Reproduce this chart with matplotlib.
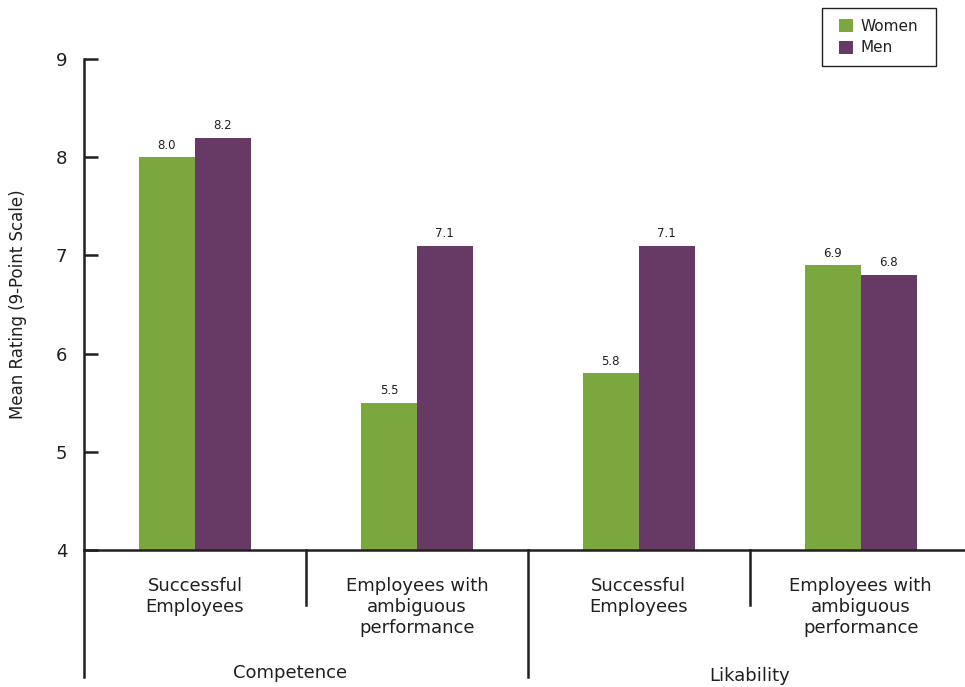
import matplotlib
matplotlib.use("Agg")
import matplotlib.pyplot as plt
import matplotlib.transforms as mtransforms
from matplotlib.patches import Rectangle
import numpy as np

# data
categories = ["Successful\nEmployees", "Employees with\nambiguous\nperformance",
              "Successful\nEmployees", "Employees with\nambiguous\nperformance"]
groups = ["Competence", "Likability"]
women = [8.0, 5.5, 5.8, 6.9]
men = [8.2, 7.1, 7.1, 6.8]

green = "#7aa83f"
purple = "#673a66"
dark = "#231f20"

fig = plt.figure(figsize=(9.65, 6.87), dpi=100)
ax = fig.add_axes([84 / 965, 137 / 687, 881 / 965, 491 / 687])

x = np.arange(len(categories))
w = 0.252
bw = ax.bar(x - w / 2, np.array(women) - 4, w, bottom=4, color=green, label="Women")
bm = ax.bar(x + w / 2, np.array(men) - 4, w, bottom=4, color=purple, label="Men")

for rects, vals in [(bw, women), (bm, men)]:
    for r, v in zip(rects, vals):
        ax.annotate(f"{v:.1f}", (r.get_x() + r.get_width() / 2, v),
                    xytext=(0, 4), textcoords="offset points",
                    ha="center", va="bottom", fontsize=8.5, color=dark)

ax.set_xlim(-0.5, 3.47)
ax.set_ylim(4, 9)
ax.set_yticks([4, 5, 6, 7, 8, 9])
ax.set_xticks([])
for s in ["top", "right"]:
    ax.spines[s].set_visible(False)
for s in ["left", "bottom"]:
    ax.spines[s].set_linewidth(1.8)
    ax.spines[s].set_color(dark)
ax.tick_params(axis="y", direction="in", length=10, width=1.8, color=dark,
               labelsize=13, labelcolor=dark, pad=12)
fig.text(18 / 965, 1 - 304 / 687, "Mean Rating (9-Point Scale)", rotation=90,
         ha="center", va="center", fontsize=12, color=dark)

# separators under the axis
trans = mtransforms.blended_transform_factory(ax.transData, ax.transAxes)
ax.plot([-0.5, -0.5], [0, -0.259], transform=trans, color=dark, lw=1.8, clip_on=False)
ax.plot([1.5, 1.5], [0, -0.259], transform=trans, color=dark, lw=1.8, clip_on=False)
ax.plot([0.5, 0.5], [0, -0.112], transform=trans, color=dark, lw=1.8, clip_on=False)
ax.plot([2.5, 2.5], [0, -0.112], transform=trans, color=dark, lw=1.8, clip_on=False)

for xi, lab in zip(x, categories):
    ax.text(xi, -0.055, lab, transform=trans, ha="center", va="top",
            fontsize=13, color=dark, linespacing=1.2)
ax.text(0.43, -0.25, groups[0], transform=trans, ha="center", va="center",
        fontsize=13, color=dark)
ax.text(2.5, -0.256, groups[1], transform=trans, ha="center", va="center",
        fontsize=13, color=dark)

# legend box
fig.patches.append(Rectangle((822 / 965, 1 - 66 / 687), 114 / 965, 58 / 687,
                             transform=fig.transFigure, fill=False,
                             edgecolor=dark, lw=1.0))
leg = fig.legend(handles=[bw, bm], loc="center", frameon=False,
                 bbox_to_anchor=(879 / 965, 1 - 37 / 687), fontsize=11,
                 handlelength=0.9, handleheight=0.9, handletextpad=0.5,
                 borderpad=0, labelspacing=0.45)
for t in leg.get_texts():
    t.set_color(dark)

fig.savefig("out.png", dpi=100)
